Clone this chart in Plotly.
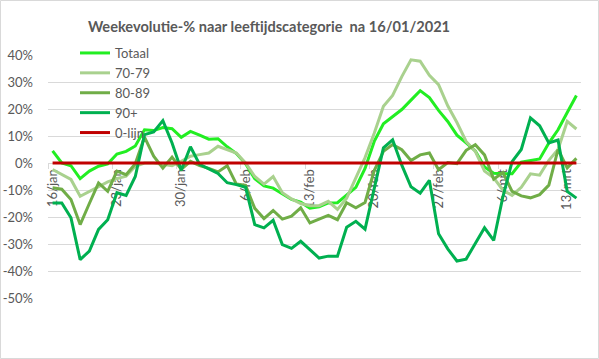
import pandas as pd
import plotly.graph_objects as go

# ---------------- data ----------------
dates = pd.date_range("2021-01-16", "2021-03-14", freq="D")

totaal = [4.5, 0, -1, -5.8, -3, -1.2, -0.3, 3.3, 4.3, 6.3,
          12.3, 12, 13.1, 12.7, 9.5, 11.7, 10.3, 8.8, 9, 6,
          3.5, -0.3, -5.8, -8.5, -9.3, -11.5, -13.5, -14.5, -16.7, -16.2,
          -14.8, -14.7, -12, -9, -2, 8, 14.5, 17, 19.8, 23.3,
          26.8, 24.2, 19.5, 15.4, 10.3, 7.5, 4.5, -1.5, -3.8, -4,
          -4, 0.3, 1, 1.5, 7.4, 12.3, 18.7, 25]

s70_79 = [-2.4, -4.3, -6.1, -12.3, -10.5, -8.6, -7, -5.8, -4.9, -1.2,
          0, 0, -0.5, -1, 0.6, 2.5, 3.1, 3.7, 6.2, 5,
          3.7, 0, -5, -7.8, -5, -11, -13.3, -15, -15.8, -15.8,
          -14.2, -17.2, -13, -5.5, 2, 11, 21, 25, 32, 38.2,
          37.7, 32.5, 29, 21.2, 15, 8, 4.3, -3, -5.5, -10,
          -12, -9, -4, -4.5, 1, 5, 15.4, 12.6]

s80_89 = [-9.2, -9.7, -13.5, -22.8, -15, -7.4, -10.5, -3, -4.3, -0.3,
          9.6, 2.5, -1.9, 2.2, -2.3, 0.6, -1, -2, -3.3, -1,
          -7.8, -8.3, -16.8, -20.6, -17.6, -20.8, -19.7, -16.6, -22.2, -20.8,
          -19.4, -21, -14.7, -16.6, -14.6, -2.8, 4.3, 6.8, 4.9, 0.9,
          3, 3.7, -2.5, 0.2, -0.2, 4.7, 6.8, 3, -6, -3.5,
          -10.5, -12.2, -12.9, -11.7, -8.2, 5, -1.8, 1.7]

s90_plus = [-14.8, -14.8, -20.3, -35.8, -32.6, -24.6, -21, -11, -12, -5,
            10.5, 11.5, 15.7, 7.4, -2.7, 6, -0.5, -2.1, -3.9, -7.3,
            -8, -9, -22.8, -24, -21.2, -30.2, -31.6, -29, -32, -35.2,
            -34.5, -34.5, -23.8, -21.6, -24.5, -10, 5.6, 8.6, -0.8, -8.8,
            -11.2, -6.4, -26.2, -31.8, -36.3, -35.6, -29.8, -24, -28.7, -12.5,
            0.5, 5, 16.7, 13.8, 7.4, 8.5, -10.5, -13]

nul_lijn = [0] * len(dates)

series_names = ["Totaal", "70-79", "80-89", "90+", "0-lijn"]
series_values = [totaal, s70_79, s80_89, s90_plus, nul_lijn]
series_colors = ["#22EE22", "#A9D18E", "#70AD47", "#00B050", "#C00000"]
series_widths = [3, 3, 3, 3, 3]

x_tick_dates = ["2021-01-16", "2021-01-23", "2021-01-30", "2021-02-06", "2021-02-13",
                "2021-02-20", "2021-02-27", "2021-03-06", "2021-03-13"]
x_tick_labels = ["16/jan", "23/jan", "30/jan", "6/feb", "13/feb",
                 "20/feb", "27/feb", "6/mrt", "13/mrt"]
x_boundary_ticks = [str((pd.Timestamp(d) - pd.Timedelta(hours=12))) for d in x_tick_dates]

y_tick_vals = [40, 30, 20, 10, 0, -10, -20, -30, -40, -50]
y_tick_labels = ["40%", "30%", "20%", "10%", "0%", "-10%", "-20%", "-30%", "-40%", "-50%"]

title_text = "Weekevolutie-% naar leeftijdscategorie  na 16/01/2021"

# ---------------- figure ----------------
W, H = 599, 359
ML, MR, MT, MB = 48, 18, 55, 61
PW, PH = W - ML - MR, H - MT - MB
Y_MIN, Y_MAX = -50, 40
FONT = "Lato"
GREY = "#595959"

fig = go.Figure()
for name, vals, col, lw in zip(series_names, series_values, series_colors, series_widths):
    fig.add_trace(go.Scatter(
        x=dates, y=vals, name=name, mode="lines",
        line=dict(color=col, width=lw),
        hoverinfo="skip",
    ))

zero_pos = (0 - Y_MIN) / (Y_MAX - Y_MIN)

fig.update_layout(
    width=W, height=H,
    margin=dict(l=ML, r=MR, t=MT, b=MB, pad=0, autoexpand=False),
    paper_bgcolor="white", plot_bgcolor="white",
    font=dict(family=FONT, size=13, color=GREY),
    title=dict(text="<b>" + title_text + "</b>", x=269 / W, xanchor="center",
               y=1 - 27 / H, yanchor="middle", yref="container",
               font=dict(family=FONT, size=14.6, color=GREY)),
    showlegend=True,
    legend=dict(x=(75 - ML) / PW, xanchor="left", y=(H - MB - 38) / PH, yanchor="top",
                bgcolor="rgba(0,0,0,0)", font=dict(family=FONT, size=13, color=GREY),
                tracegroupgap=0),
    xaxis=dict(
        type="date",
        range=[str(dates[0] - pd.Timedelta(hours=12)), str(dates[-1] + pd.Timedelta(hours=12))],
        tickmode="array", tickvals=x_tick_dates, ticktext=x_tick_labels,
        tickangle=-90, ticks="", showgrid=False,
        anchor="free", position=zero_pos, automargin=False,
        showline=True, linecolor="#D9D9D9", linewidth=1, layer="below traces",
        tickfont=dict(family=FONT, size=13, color=GREY),
        minor=dict(tickmode="array", tickvals=x_boundary_ticks, ticks="outside",
                   ticklen=5, tickcolor="#D9D9D9", showgrid=False),
        zeroline=False,
    ),
    yaxis=dict(
        range=[Y_MIN, Y_MAX], tickmode="array", tickvals=y_tick_vals, ticktext=y_tick_labels,
        showgrid=True, gridcolor="#D9D9D9", gridwidth=1, zeroline=False,
        ticks="", ticklabelstandoff=14, automargin=False, layer="below traces",
        tickfont=dict(family=FONT, size=13, color=GREY),
    ),
)

# outer chart border
fig.add_shape(type="rect", xref="paper", yref="paper",
              x0=(0.5 - ML) / PW, x1=(W - 0.5 - ML) / PW,
              y0=(H - MB - (H - 0.5)) / PH, y1=(H - MB - 0.5) / PH,
              line=dict(color="#D9D9D9", width=1), fillcolor="rgba(0,0,0,0)", layer="below")

fig.write_html("out.html", config={"displayModeBar": False},
               post_script="document.body.style.margin='0';document.body.style.overflow='hidden';")
